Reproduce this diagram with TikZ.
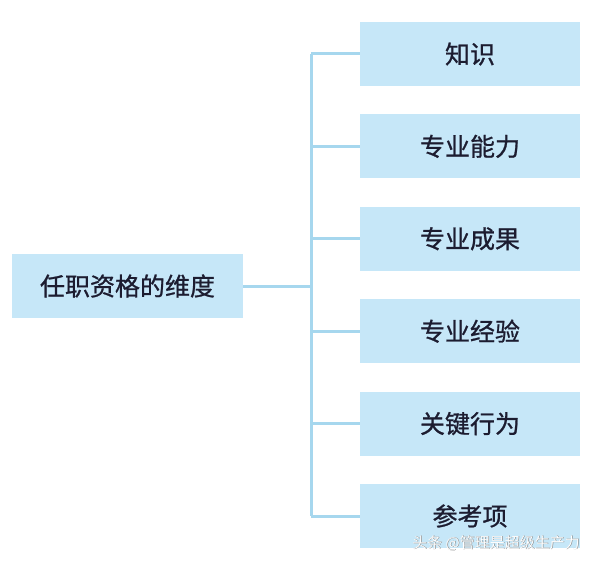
\documentclass[tikz,border=0pt]{standalone}
\usepackage{fontspec}
\setmainfont{Noto Sans CJK SC}
\newfontfamily\cjk[FakeBold=0.9]{Noto Sans CJK SC}
\newfontfamily\cjkwm{Noto Sans CJK SC}
\begin{document}
\begin{tikzpicture}[x=1pt,y=-1pt,
  boxstyle/.style={fill=boxblue,draw=none,minimum height=64pt,inner sep=0pt,font=\cjk\fontsize{25}{30}\selectfont,text=textnavy},
  conn/.style={draw=lineblue,line width=3pt},
  wmstyle/.style={font=\cjkwm\fontsize{15}{18}\selectfont,anchor=east,inner sep=0pt}]
\definecolor{boxblue}{HTML}{C6E7F8}
\definecolor{lineblue}{HTML}{A6D7EE}
\definecolor{textnavy}{HTML}{1C1C30}
\useasboundingbox (0,0) rectangle (594,564);
\fill[white] (0,0) rectangle (594,564);
\node[boxstyle,minimum width=231pt] (root) at (127.5,286) {任职资格的维度};
\foreach \i/\t in {0/知识,1/专业能力,2/专业成果,3/专业经验,4/关键行为,5/参考项}{
  \node[boxstyle,minimum width=220pt] (c\i) at (470,54+92.4*\i) {\t};
}
\coordinate (bus) at (311,286);
\draw[conn] (root.east) -- (bus);
\draw[conn] (c0.west -| bus) -- (c5.west -| bus);
\foreach \i in {0,...,5}{
  \draw[conn] (c\i.west) -- (c\i.west -| bus);
}
\node[wmstyle,text=black!55] (wmshadow) at (580.6,543.6) {头条 @管理是超级生产力};
\node[wmstyle,text=white] (wm) at (580,543) {头条 @管理是超级生产力};
\end{tikzpicture}
\end{document}
